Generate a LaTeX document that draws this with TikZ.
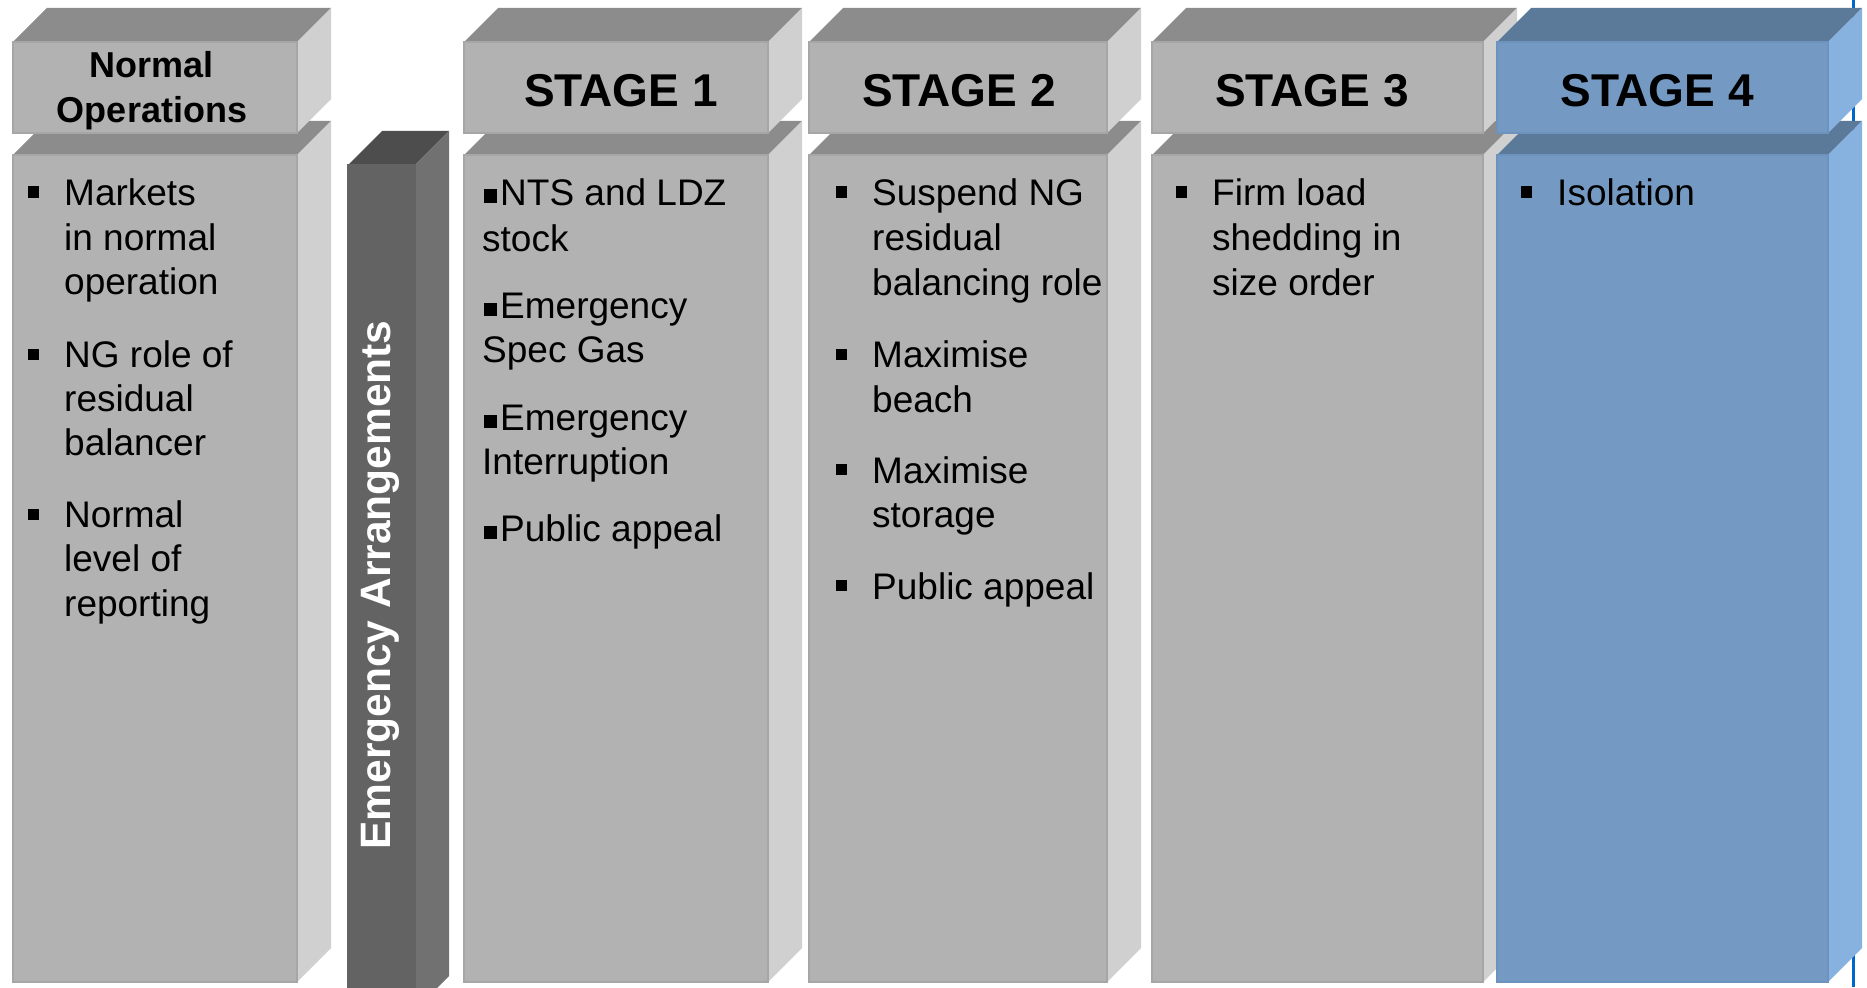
\documentclass[tikz,border=0pt]{standalone}
\usepackage{fontspec}
\setmainfont{Liberation Sans}
\definecolor{gfront}{HTML}{B2B2B2}
\definecolor{gtop}{HTML}{8C8C8C}
\definecolor{gside}{HTML}{D0D0D0}
\definecolor{gedge}{HTML}{A6A6A6}
\definecolor{dfront}{HTML}{636363}
\definecolor{dtop}{HTML}{4D4D4D}
\definecolor{dside}{HTML}{717171}
\definecolor{bfront}{HTML}{749AC4}
\definecolor{btop}{HTML}{5B7A99}
\definecolor{bside}{HTML}{87B2E0}
\definecolor{bedge}{HTML}{6C92BE}
\definecolor{bline}{HTML}{0066CC}
\newcommand\cuboid[9]{%
  \fill[#7] (#2,#3) -- (#2+34,#3-34) -- (#4+34,#3-34) -- (#4,#3) -- cycle;
  \fill[#8] (#4,#3) -- (#4+34,#3-34) -- (#4+34,#5-34) -- (#4,#5) -- cycle;
  \node[frontbox, fill=#6, draw=#9, minimum width={#4-#2}, minimum height={#5-#3}] (#1) at (#2,#3) {};
}
\begin{document}
\begin{tikzpicture}[x=1pt,y=-1pt,
  frontbox/.style={anchor=north west, inner sep=0pt, outer sep=0pt, line width=1.2pt},
  txt/.style={anchor=base west, inner sep=0pt, font=\fontsize{37}{44}\selectfont},
  hdr/.style={anchor=base, inner sep=0pt, font=\fontsize{46}{52}\selectfont\bfseries},
  bul/.style={fill=black, inner sep=0pt, minimum size=11pt},
  bulb/.style={fill=black, inner sep=0pt, minimum size=13pt},
  bluerule/.style={draw=bline, line width=3pt}]
\useasboundingbox (0,0) rectangle (1867,987);
\clip (0,0) rectangle (1867,987);
\fill[white] (0,0) rectangle (1867,987);
% blue rule behind stage 4
\coordinate (blt) at (1853,0);
\coordinate (blb) at (1853,987);
\draw[bluerule] (blt) -- (blb);

% Normal operations
\cuboid{normb}{13}{155}{297}{982}{gfront}{gtop}{gside}{gedge}
\cuboid{normh}{13}{42}{297}{133}{gfront}{gtop}{gside}{gedge}
\node[anchor=base, inner sep=0pt, font=\fontsize{36}{43}\selectfont\bfseries] (normt1) at (152,78) {Normal};
\node[anchor=base, inner sep=0pt, font=\fontsize{36}{43}\selectfont\bfseries] (normt2) at (152,123) {Operations};
\node[bul] (nb1) at (33.5,192) {};
\node[bul] (nb2) at (33.5,354) {};
\node[bul] (nb3) at (33.5,514) {};
\node[txt] (n1) at (64,205) {Markets};
\node[txt] (n2) at (64,250) {in normal};
\node[txt] (n3) at (64,294) {operation};
\node[txt] (n4) at (64,367) {NG role of};
\node[txt] (n5) at (64,411) {residual};
\node[txt] (n6) at (64,455) {balancer};
\node[txt] (n7) at (64,527) {Normal};
\node[txt] (n8) at (64,571) {level of};
\node[txt] (n9) at (64,616) {reporting};

% Emergency arrangements bar
\cuboid{emg}{348}{165}{415}{1010}{dfront}{dtop}{dside}{dfront}
\node[rotate=90, inner sep=0pt, text=white, font=\fontsize{42.5}{48}\selectfont\bfseries] (emgt) at (380,585) {Emergency Arrangements};

% Stage 1
\cuboid{s1b}{464}{155}{768}{982}{gfront}{gtop}{gside}{gedge}
\cuboid{s1h}{464}{42}{768}{133}{gfront}{gtop}{gside}{gedge}
\node[hdr] (s1t) at (621,107) {STAGE 1};
\node[bulb] (ab1) at (490,196) {};
\node[bulb] (ab2) at (490,309) {};
\node[bulb] (ab3) at (490,421) {};
\node[bulb] (ab4) at (490,532) {};
\node[txt] (a1) at (500,205) {NTS and LDZ};
\node[txt] (a2) at (482,251) {stock};
\node[txt] (a3) at (500,318) {Emergency};
\node[txt] (a4) at (482,362) {Spec Gas};
\node[txt] (a5) at (500,430) {Emergency};
\node[txt] (a6) at (482,474) {Interruption};
\node[txt] (a7) at (500,541) {Public appeal};

% Stage 2
\cuboid{s2b}{809}{155}{1107}{982}{gfront}{gtop}{gside}{gedge}
\cuboid{s2h}{809}{42}{1107}{133}{gfront}{gtop}{gside}{gedge}
\node[hdr] (s2t) at (959,107) {STAGE 2};
\node[bul] (bb1) at (841,192) {};
\node[bul] (bb2) at (841,354) {};
\node[bul] (bb3) at (841,469) {};
\node[bul] (bb4) at (841,585) {};
\node[txt] (b1) at (872,205) {Suspend NG};
\node[txt] (b2) at (872,250) {residual};
\node[txt] (b3) at (872,295) {balancing role};
\node[txt] (b4) at (872,367) {Maximise};
\node[txt] (b5) at (872,412) {beach};
\node[txt] (b6) at (872,483) {Maximise};
\node[txt] (b7) at (872,527) {storage};
\node[txt] (b8) at (872,599) {Public appeal};

% Stage 3
\cuboid{s3b}{1152}{155}{1483}{982}{gfront}{gtop}{gside}{gedge}
\cuboid{s3h}{1152}{42}{1483}{133}{gfront}{gtop}{gside}{gedge}
\node[hdr] (s3t) at (1312,107) {STAGE 3};
\node[bul] (cb1) at (1181,192) {};
\node[txt] (c1) at (1212,205) {Firm load};
\node[txt] (c2) at (1212,250) {shedding in};
\node[txt] (c3) at (1212,295) {size order};

% Stage 4
\cuboid{s4b}{1497}{155}{1828}{982}{bfront}{btop}{bside}{bedge}
\cuboid{s4h}{1497}{42}{1828}{133}{bfront}{btop}{bside}{bedge}
\node[hdr] (s4t) at (1657,107) {STAGE 4};
\node[bul] (db1) at (1526,192) {};
\node[txt] (d1) at (1557,205) {Isolation};
\end{tikzpicture}
\end{document}
